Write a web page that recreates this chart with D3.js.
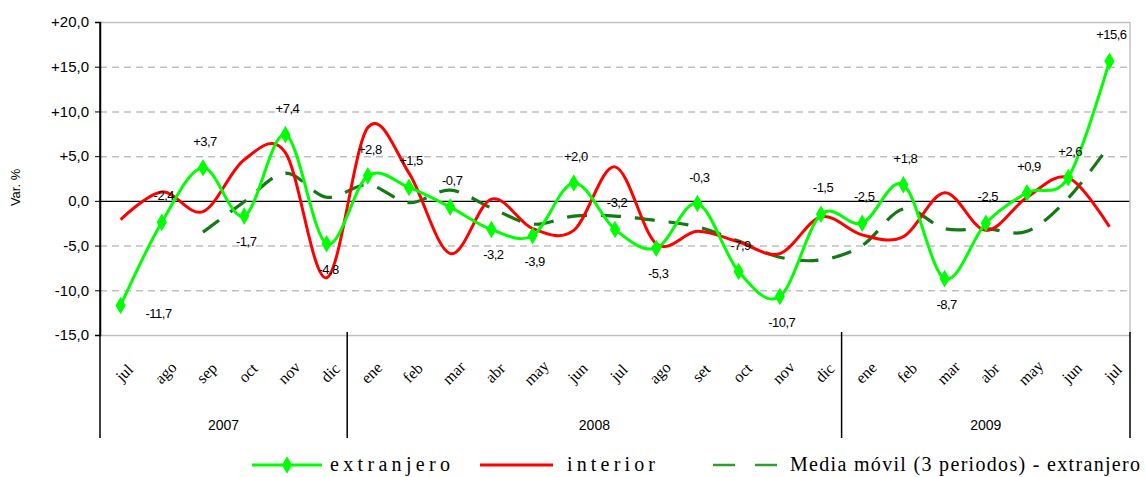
<!DOCTYPE html>
<html>
<head>
<meta charset="utf-8">
<script src="https://cdn.jsdelivr.net/npm/d3@7.9.0/dist/d3.min.js"></script>
<style>
  body { margin: 0; background: #fff; }
  svg { display: block; }
</style>
</head>
<body>
<div id="chart"></div>
<script>
// months jul 2007 - jul 2009
const months = ['jul','ago','sep','oct','nov','dic',
  'ene','feb','mar','abr','may','jun','jul','ago','set','oct','nov','dic',
  'ene','feb','mar','abr','may','jun','jul'];
const years = ['2007', '2008', '2009'];
const yearCounts = [6, 12, 7];

const extranjero = [-11.7, -2.4, 3.7, -1.7, 7.4, -4.8, 2.8, 1.5, -0.7, -3.2, -3.9, 2.0,
  -3.2, -5.3, -0.3, -7.9, -10.7, -1.5, -2.5, 1.8, -8.7, -2.5, 0.9, 2.6, 15.6];
const extranjeroLabels = ['-11,7', '-2,4', '+3,7', '-1,7', '+7,4', '-4,8', '+2,8', '+1,5', '-0,7',
  '-3,2', '-3,9', '+2,0', '-3,2', '-5,3', '-0,3', '-7,9', '-10,7', '-1,5', '-2,5', '+1,8',
  '-8,7', '-2,5', '+0,9', '+2,6', '+15,6'];
// where each label sits: a = above, b = below, r = below right
const labelPlace = ['r','a','a','b','a','b','a','a','a','b','b','a','a','b','a','a','b','a','a','a','b','a','a','a','a'];

const interior = [-2.1, 1.0, -1.2, 4.6, 5.4, -8.6, 8.2, 3.1, -5.9, 0.2, -3.1, -3.3,
  3.8, -4.8, -3.4, -4.6, -5.9, -1.8, -3.8, -4.0, 0.9, -3.3, 0.4, 2.6, -2.9];

// moving average (3 periods), starts at sep 2007
const mediaMovil = [null, null, -3.5, -0.1, 3.1, 0.4, 1.8, -0.2, 1.2, -0.8, -2.6, -1.7,
  -1.7, -2.2, -2.9, -4.5, -6.3, -6.6, -5.0, -0.9, -3.1, -3.1, -3.4, 0.3, 6.2];

const yTicks = [-15, -10, -5, 0, 5, 10, 15, 20];

const width = 1146;
const height = 477;
const margin = { top: 22, right: 16, bottom: 142, left: 100 };
const plot = {
  left: margin.left,
  right: width - margin.right,
  top: margin.top,
  bottom: height - margin.bottom,
};

const svg = d3.select('#chart')
  .append('svg')
  .attr('width', width)
  .attr('height', height);

const x = d3.scaleBand()
  .domain(d3.range(months.length))
  .range([plot.left, plot.right]);
const cx = (i) => x(i) + x.bandwidth() / 2;

const y = d3.scaleLinear()
  .domain([-15, 20])
  .range([plot.bottom, plot.top]);

const fmt = (d) => (d > 0 ? '+' : '') + d.toFixed(1).replace('.', ',');

// gridlines
const grid = svg.append('g')
  .attr('transform', `translate(${plot.left},0)`)
  .call(d3.axisLeft(y).tickValues(yTicks).tickFormat('').tickSize(-(plot.right - plot.left)));
grid.select('.domain').remove();
grid.selectAll('.tick line')
  .attr('stroke', (d) => (d === 0 ? '#000' : '#c0c0c0'))
  .attr('stroke-width', (d) => (d === 0 ? 1.3 : 1.5))
  .attr('stroke-dasharray', (d) => (d === 0 || d === 20 || d === -15 ? null : '7,5'));

// right border
svg.append('line')
  .attr('x1', plot.right).attr('x2', plot.right)
  .attr('y1', plot.top).attr('y2', plot.bottom)
  .attr('stroke', '#c0c0c0').attr('stroke-width', 1.5);

// y axis
const yAxis = svg.append('g')
  .attr('transform', `translate(${plot.left},0)`)
  .call(d3.axisLeft(y).tickValues(yTicks).tickFormat(fmt).tickSize(5).tickPadding(6));
yAxis.select('.domain').attr('stroke', '#000').attr('stroke-width', 1.5);
yAxis.selectAll('.tick line').attr('stroke', '#000');
yAxis.selectAll('.tick text')
  .attr('font-family', 'Liberation Sans, Arial, sans-serif')
  .attr('font-size', 15)
  .attr('fill', '#000');

svg.append('text')
  .attr('transform', `translate(20,${y(1.5)}) rotate(-90)`)
  .attr('text-anchor', 'middle')
  .attr('font-family', 'Liberation Sans, Arial, sans-serif')
  .attr('font-size', 13)
  .text('Var. %');

// category axis: months and years
svg.append('g')
  .selectAll('text')
  .data(months)
  .join('text')
  .attr('transform', (d, i) => `translate(${cx(i) + 5},374) rotate(-45)`)
  .attr('text-anchor', 'middle')
  .attr('dominant-baseline', 'middle')
  .attr('font-family', 'Liberation Serif, Times New Roman, serif')
  .attr('font-size', 16)
  .text((d) => d);

const yearStart = d3.cumsum([0, ...yearCounts]);
svg.append('g')
  .selectAll('line')
  .data(yearStart)
  .join('line')
  .attr('x1', (d) => (d < months.length ? x(d) : plot.right))
  .attr('x2', (d) => (d < months.length ? x(d) : plot.right))
  .attr('y1', (d) => (d === 0 ? plot.top : plot.bottom - 3))
  .attr('y2', 438)
  .attr('stroke', '#000')
  .attr('stroke-width', 1.5);

svg.append('g')
  .selectAll('text')
  .data(years)
  .join('text')
  .attr('x', (d, i) => (x(yearStart[i]) + (yearStart[i + 1] < months.length ? x(yearStart[i + 1]) : plot.right)) / 2)
  .attr('y', 430)
  .attr('text-anchor', 'middle')
  .attr('font-family', 'Liberation Sans, Arial, sans-serif')
  .attr('font-size', 14)
  .text((d) => d);

// series
const smooth = d3.curveCardinal.tension(0);
const line = d3.line()
  .defined((d) => d != null)
  .x((d, i) => cx(i))
  .y((d) => y(d))
  .curve(smooth);

svg.append('path')
  .datum(mediaMovil)
  .attr('d', line)
  .attr('fill', 'none')
  .attr('stroke', '#127a12')
  .attr('stroke-width', 3.2)
  .attr('stroke-dasharray', '20,14');

svg.append('path')
  .datum(interior)
  .attr('d', line)
  .attr('fill', 'none')
  .attr('stroke', '#ff0000')
  .attr('stroke-width', 3);

svg.append('path')
  .datum(extranjero)
  .attr('d', line)
  .attr('fill', 'none')
  .attr('stroke', '#00ff00')
  .attr('stroke-width', 3);

const diamond = d3.symbol().type(d3.symbolDiamond).size(90);
svg.append('g')
  .selectAll('path')
  .data(extranjero)
  .join('path')
  .attr('transform', (d, i) => `translate(${cx(i)},${y(d)})`)
  .attr('d', diamond)
  .attr('fill', '#00ff00');

// data labels
svg.append('g')
  .selectAll('text')
  .data(extranjeroLabels)
  .join('text')
  .attr('x', (d, i) => cx(i) + (labelPlace[i] === 'r' ? 38 : 2))
  .attr('y', (d, i) => y(extranjero[i]) + (labelPlace[i] === 'a' ? -22 : labelPlace[i] === 'r' ? 13 : 30))
  .attr('text-anchor', 'middle')
  .attr('font-family', 'Liberation Sans, Arial, sans-serif')
  .attr('font-size', 13)
  .attr('letter-spacing', -0.5)
  .text((d) => d);

// legend
const legend = svg.append('g').attr('font-family', 'Liberation Serif, Times New Roman, serif').attr('font-size', 20);

legend.append('line')
  .attr('x1', 252).attr('x2', 322).attr('y1', 465).attr('y2', 465)
  .attr('stroke', '#00ff00').attr('stroke-width', 3);
legend.append('path')
  .attr('transform', 'translate(287,465)')
  .attr('d', diamond)
  .attr('fill', '#00ff00');
legend.append('text')
  .attr('x', 330).attr('y', 471)
  .attr('textLength', 120).attr('lengthAdjust', 'spacing')
  .text('extranjero');

legend.append('line')
  .attr('x1', 480).attr('x2', 553).attr('y1', 465).attr('y2', 465)
  .attr('stroke', '#ff0000').attr('stroke-width', 3);
legend.append('text')
  .attr('x', 567).attr('y', 471)
  .attr('textLength', 88).attr('lengthAdjust', 'spacing')
  .text('interior');

legend.append('line')
  .attr('x1', 713).attr('x2', 777).attr('y1', 465).attr('y2', 465)
  .attr('stroke', '#2e9e2e').attr('stroke-width', 2.5)
  .attr('stroke-dasharray', '22,20');
legend.append('text')
  .attr('x', 790).attr('y', 471)
  .attr('textLength', 350).attr('lengthAdjust', 'spacing')
  .text('Media móvil (3 periodos) - extranjero');
</script>
</body>
</html>
